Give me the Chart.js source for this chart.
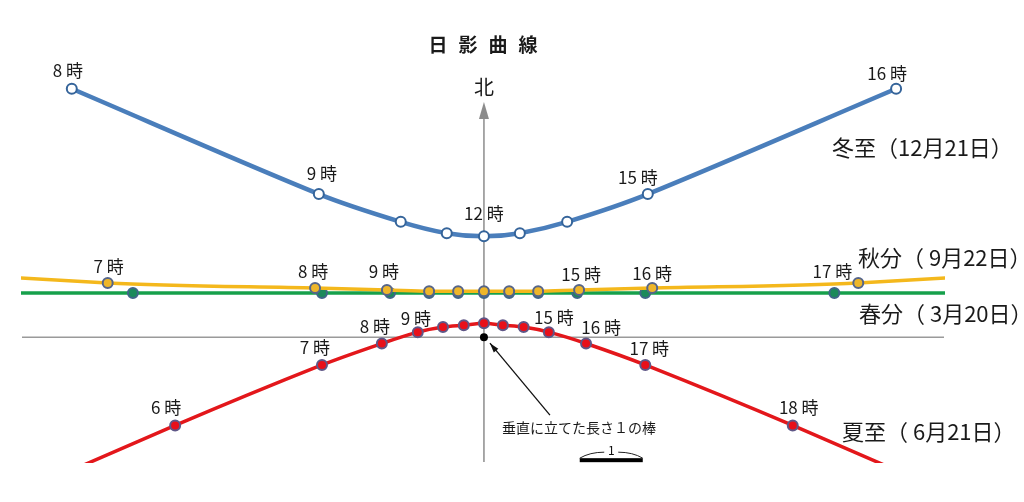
<!DOCTYPE html>
<html lang="ja">
<head>
<meta charset="utf-8">
<title>日影曲線</title>
<script src="https://cdn.jsdelivr.net/npm/chart.js@4.4.1/dist/chart.umd.min.js"></script>
<style>
  html, body { margin: 0; padding: 0; background: #fff; }
  #wrap { position: relative; width: 1024px; height: 502px; }
</style>
</head>
<body>
<div id="wrap"><canvas id="chart"></canvas></div>
<script>
// ── 1. DATA ──────────────────────────────────────────────────
// Tip of the shadow of a vertical stick of length 1 (x: east +, y: north +).
// Points beyond the frame only carry the line out to the edge.
const winterHours = [8, 9, 10, 11, 12, 13, 14, 15, 16];
const winterX     = [-6.54, -2.62, -1.32, -0.59, 0, 0.57, 1.32, 2.60, 6.54];
const winterY     = [3.94, 2.27, 1.83, 1.65, 1.60, 1.65, 1.83, 2.27, 3.94];

const autumnHours = [6, 7, 8, 9, 10, 11, 12, 13, 14, 15, 16, 17, 18];
const autumnX     = [-20, -5.97, -2.68, -1.54, -0.87, -0.41, 0, 0.40, 0.86, 1.51, 2.67, 5.94, 20];
const autumnY     = [1.70, 0.86, 0.78, 0.75, 0.73, 0.73, 0.73, 0.73, 0.73, 0.75, 0.78, 0.86, 1.70];

const springHours = [6, 7, 8, 9, 10, 11, 12, 13, 14, 15, 16, 17, 18];
const springX     = [-20, -5.57, -2.57, -1.49, -0.87, -0.41, 0, 0.40, 0.86, 1.48, 2.56, 5.56, 20];
const springY     = [0.70, 0.70, 0.70, 0.70, 0.70, 0.70, 0.70, 0.70, 0.70, 0.70, 0.70, 0.70, 0.70];

const summerHours = [5, 6, 7, 8, 9, 10, 11, 12, 13, 14, 15, 16, 17, 18, 19];
const summerX     = [-9.5, -4.90, -2.57, -1.62, -1.05, -0.65, -0.32, 0, 0.30, 0.63, 1.03, 1.62, 2.56, 4.90, 9.5];
const summerY     = [-3.40, -1.40, -0.44, -0.10, 0.08, 0.16, 0.19, 0.22, 0.19, 0.16, 0.08, -0.10, -0.44, -1.40, -3.40];

// hours that carry a "n 時" tag
const winterTagged = [8, 9, 12, 15, 16];
const autumnTagged = [7, 8, 9, 15, 16, 17];
const springTagged = [];
const summerTagged = [6, 7, 8, 9, 15, 16, 17, 18];

const seriesNames = ["冬至（12月21日）", "秋分（ 9月22日）", "春分（ 3月20日）", "夏至（ 6月21日）"];

// ── 2. HELPERS ───────────────────────────────────────────────
const FONT = '"Noto Sans CJK JP", "Noto Sans", sans-serif';
const toPoints = (xs, ys) => xs.map((x, i) => ({ x, y: ys[i] }));

// tag offsets (px) from the marker: [dx, dy]
const tagOffsets = {
  winter: { 8: [-4, -18], 9: [3, -21], 12: [0, -23], 15: [-10, -17], 16: [-9, -15] },
  autumn: { 7: [1, -16], 8: [-2, -16], 9: [-3, -18], 15: [2, -15], 16: [0, -14], 17: [-26, -11] },
  spring: {},
  summer: { 6: [-9, -18], 7: [-7, -17], 8: [-7, -17], 9: [-2, -14], 15: [5, -15], 16: [15, -16], 17: [4, -16], 18: [6, -18] },
};

// name label anchor (left edge x, middle y) in px
const namePos = [[832, 148], [858, 258], [859, 314], [842, 432]];

// ── 3. DECORATION PLUGIN ─────────────────────────────────────
const sundialPlugin = {
  id: "sundial",
  beforeDatasetsDraw(chart) {
    const { ctx, chartArea: a, scales: { x, y } } = chart;
    const ox = x.getPixelForValue(0), oy = y.getPixelForValue(0);
    ctx.save();
    ctx.strokeStyle = "#9a9a9a";
    ctx.lineWidth = 1.5;
    // east-west line
    ctx.beginPath();
    ctx.moveTo(a.left, oy); ctx.lineTo(a.right, oy);
    ctx.stroke();
    // north axis with arrow
    ctx.strokeStyle = "#8c8c8c";
    ctx.beginPath();
    ctx.moveTo(ox, a.bottom); ctx.lineTo(ox, 116);
    ctx.stroke();
    ctx.fillStyle = "#8c8c8c";
    ctx.beginPath();
    ctx.moveTo(ox, 102); ctx.lineTo(ox - 5, 119); ctx.lineTo(ox + 5, 119);
    ctx.closePath(); ctx.fill();

    ctx.fillStyle = "#1a1a1a";
    ctx.textAlign = "center"; ctx.textBaseline = "middle";
    ctx.font = "20px " + FONT;
    ctx.fillText("北", ox, 87);
    ctx.font = "bold 19px " + FONT;
    ["日", "影", "曲", "線"].forEach((ch, i) => ctx.fillText(ch, 438 + i * 30, 45));
    ctx.restore();
  },
  afterDatasetsDraw(chart) {
    const { ctx, scales: { x, y } } = chart;
    const ox = x.getPixelForValue(0), oy = y.getPixelForValue(0);
    ctx.save();

    // stick base
    ctx.fillStyle = "#000";
    ctx.beginPath(); ctx.arc(ox, oy, 4, 0, Math.PI * 2); ctx.fill();

    // hour tags
    ctx.fillStyle = "#1a1a1a";
    ctx.textAlign = "center"; ctx.textBaseline = "middle";
    ctx.font = "17px " + FONT;
    const keys = ["winter", "autumn", "spring", "summer"];
    const tagged = [winterTagged, autumnTagged, springTagged, summerTagged];
    chart.data.datasets.forEach((ds, di) => {
      const meta = chart.getDatasetMeta(di);
      ds.hours.forEach((h, i) => {
        if (!tagged[di].includes(h)) return;
        const p = meta.data[i];
        const off = tagOffsets[keys[di]][h] || [0, -18];
        ctx.fillText(h + " 時", p.x + off[0], p.y + off[1]);
      });
    });

    // series names
    ctx.textAlign = "left";
    ctx.font = "22px " + FONT;
    seriesNames.forEach((s, i) => ctx.fillText(s, namePos[i][0], namePos[i][1]));

    // stick note with arrow
    ctx.font = "14px " + FONT;
    ctx.textAlign = "center";
    ctx.fillText("垂直に立てた長さ１の棒", ox + 95, oy + 91);
    const tx = ox + 6, ty = oy + 6, sx = ox + 66, sy = oy + 78;
    ctx.strokeStyle = "#111"; ctx.lineWidth = 1.3;
    ctx.beginPath(); ctx.moveTo(sx, sy); ctx.lineTo(tx, ty); ctx.stroke();
    const ang = Math.atan2(ty - sy, tx - sx);
    ctx.beginPath();
    ctx.moveTo(tx, ty);
    ctx.lineTo(tx - 10 * Math.cos(ang - 0.3), ty - 10 * Math.sin(ang - 0.3));
    ctx.lineTo(tx - 10 * Math.cos(ang + 0.3), ty - 10 * Math.sin(ang + 0.3));
    ctx.closePath(); ctx.fillStyle = "#111"; ctx.fill();

    // scale bar: one unit
    const bx0 = x.getPixelForValue(1.52), bx1 = x.getPixelForValue(2.52), by = oy + 121;
    const mid = (bx0 + bx1) / 2;
    ctx.fillStyle = "#000";
    ctx.fillRect(bx0, by, bx1 - bx0, 4);
    ctx.strokeStyle = "#222"; ctx.lineWidth = 1;
    ctx.beginPath();
    ctx.moveTo(bx0, by); ctx.quadraticCurveTo(bx0 + 10, by - 6, mid - 7, by - 6);
    ctx.moveTo(bx1, by); ctx.quadraticCurveTo(bx1 - 10, by - 6, mid + 7, by - 6);
    ctx.stroke();
    ctx.fillStyle = "#111";
    ctx.font = "12px " + FONT;
    ctx.fillText("1", mid, by - 8);
    ctx.restore();
  },
};

// ── 4. CHART ─────────────────────────────────────────────────
function series(hours, xs, ys, line, width, fill, border, clip) {
  return {
    hours,
    data: toPoints(xs, ys),
    showLine: true,
    tension: 0.3,
    borderColor: line,
    borderWidth: width,
    pointRadius: 5,
    pointBorderWidth: 2,
    pointBackgroundColor: fill,
    pointBorderColor: border,
    clip,
  };
}

new Chart(document.getElementById("chart"), {
  type: "scatter",
  data: {
    datasets: [
      series(winterHours, winterX, winterY, "#4a7ebb", 4.5, "#ffffff", "#35649a", false),
      series(autumnHours, autumnX, autumnY, "#f4b81c", 3.5, "#eeb62a", "#55658a", 1),
      series(springHours, springX, springY, "#16a04b", 3.5, "#1b8a5a", "#3f6688", 1),
      series(summerHours, summerX, summerY, "#e3171b", 3.5, "#e8101a", "#5f5787", 1),
    ],
  },
  options: {
    responsive: true,
    maintainAspectRatio: false,
    animation: false,
    layout: { padding: { left: 22, right: 80, top: 53.5, bottom: 40 } },
    plugins: { legend: { display: false }, tooltip: { enabled: false } },
    scales: {
      x: { type: "linear", min: -7.33, max: 7.30, display: false },
      y: { type: "linear", min: -1.98, max: 4.5, display: false },
    },
  },
  plugins: [sundialPlugin],
});
</script>
</body>
</html>
